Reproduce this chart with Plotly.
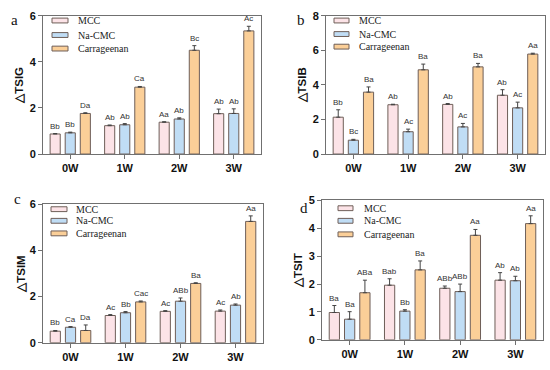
import plotly.graph_objects as go
from plotly.subplots import make_subplots

weeks = ["0W", "1W", "2W", "3W"]
series_names = ["MCC", "Na-CMC", "Carrageenan"]

# Panel a: ΔTSIG
a_mcc = [0.87, 1.23, 1.38, 1.75]
a_na = [0.92, 1.27, 1.52, 1.76]
a_car = [1.76, 2.90, 4.50, 5.34]
a_mcc_err = [0.02, 0.03, 0.02, 0.20]
a_na_err = [0.03, 0.05, 0.05, 0.20]
a_car_err = [0.03, 0.03, 0.20, 0.20]
a_mcc_lab = ["Bb", "Ab", "Aa", "Ab"]
a_na_lab = ["Bb", "Ab", "Ab", "Ab"]
a_car_lab = ["Da", "Ca", "Bc", "Ac"]

# Panel b: ΔTSIB
b_mcc = [2.13, 2.85, 2.87, 3.40]
b_na = [0.80, 1.29, 1.57, 2.67]
b_car = [3.58, 4.87, 5.04, 5.78]
b_mcc_err = [0.43, 0.03, 0.05, 0.32]
b_na_err = [0.05, 0.15, 0.20, 0.33]
b_car_err = [0.30, 0.33, 0.20, 0.05]
b_mcc_lab = ["Bb", "Ab", "Ab", "Ab"]
b_na_lab = ["Bc", "Ac", "Ac", "Ac"]
b_car_lab = ["Ba", "Ba", "Ba", "Aa"]

# Panel c: ΔTSIM
c_mcc = [0.50, 1.18, 1.36, 1.37]
c_na = [0.67, 1.30, 1.80, 1.63]
c_car = [0.53, 1.77, 2.57, 5.26]
c_mcc_err = [0.03, 0.04, 0.03, 0.05]
c_na_err = [0.03, 0.05, 0.14, 0.05]
c_car_err = [0.24, 0.04, 0.03, 0.24]
c_mcc_lab = ["Bb", "Ac", "Ac", "Ac"]
c_na_lab = ["Ca", "Bb", "ABb", "Ab"]
c_car_lab = ["Da", "Cac", "Ba", "Aa"]

# Panel d: ΔTSIT
d_mcc = [0.98, 1.96, 1.85, 2.14]
d_na = [0.74, 1.03, 1.73, 2.12]
d_car = [1.69, 2.51, 3.75, 4.17]
d_mcc_err = [0.25, 0.23, 0.08, 0.27]
d_na_err = [0.27, 0.05, 0.27, 0.16]
d_car_err = [0.45, 0.32, 0.21, 0.28]
d_mcc_lab = ["Ba", "Bab", "ABb", "Ab"]
d_na_lab = ["Ba", "Bb", "ABb", "Ab"]
d_car_lab = ["ABa", "Ba", "Aa", "Aa"]

y_titles = ["\u25b3TSIG", "\u25b3TSIB", "\u25b3TSIM", "\u25b3TSIT"]
panel_letters = ["a", "b", "c", "d"]
y_ranges = [[0, 6], [0, 8], [0, 6], [0, 5]]
y_dticks = [2, 2, 2, 1]

colors = ["#FCE3E7", "#C0DDF5", "#FBCF98"]
outline = "#6E5E58"

panels = [
    ([a_mcc, a_na, a_car], [a_mcc_err, a_na_err, a_car_err], [a_mcc_lab, a_na_lab, a_car_lab]),
    ([b_mcc, b_na, b_car], [b_mcc_err, b_na_err, b_car_err], [b_mcc_lab, b_na_lab, b_car_lab]),
    ([c_mcc, c_na, c_car], [c_mcc_err, c_na_err, c_car_err], [c_mcc_lab, c_na_lab, c_car_lab]),
    ([d_mcc, d_na, d_car], [d_mcc_err, d_na_err, d_car_err], [d_mcc_lab, d_na_lab, d_car_lab]),
]

W, H = 550, 370
# pixel boxes (left, right, top, bottom)
boxes = [(43, 261, 10, 153), (326, 545, 10, 153), (43, 263, 205, 348), (322, 543, 201, 345)]
# legend layout per panel: swatch left, swatch right, text left, row y's
legend_geo = [
    (52, 68, 76, [15, 30, 44]),
    (334, 349, 357, [15, 29, 42]),
    (51, 67, 74, [210, 222, 235]),
    (338, 353, 362, [209, 222, 236]),
]
title_standoff = [3, 3, 1, 3]

BARGAP = 0.17
GROUPGAP = 0.33

fig = make_subplots(rows=2, cols=2)

for p, (vals, errs, labs) in enumerate(panels):
    r, c = p // 2 + 1, p % 2 + 1
    for k in range(3):
        fig.add_trace(go.Bar(
            x=weeks, y=vals[k], name=series_names[k],
            marker=dict(color=colors[k], line=dict(color=outline, width=1)),
            error_y=dict(type="data", symmetric=False, array=errs[k],
                         arrayminus=[0] * 4, color="#444", thickness=1, width=2),
            showlegend=False,
        ), row=r, col=c)

tick_font = dict(family="Liberation Sans, Arial", size=11, color="#111", weight="bold")
layout_updates = {}
for p in range(4):
    l, rr, t, b = boxes[p]
    sfx = "" if p == 0 else str(p + 1)
    layout_updates["xaxis" + sfx] = dict(
        domain=[l / W, rr / W], range=[-0.5, 3.5], type="category",
        showline=True, linecolor="#707070", linewidth=1, mirror=True,
        ticks="outside", ticklen=4, tickcolor="#707070", tickfont=tick_font,
        showgrid=False, zeroline=False, fixedrange=True)
    layout_updates["yaxis" + sfx] = dict(
        domain=[(H - b) / H, (H - t) / H], range=y_ranges[p], dtick=y_dticks[p],
        showline=True, linecolor="#707070", linewidth=1, mirror=True,
        ticks="outside", ticklen=4, tickcolor="#707070", tickfont=tick_font,
        title=dict(text=y_titles[p], standoff=title_standoff[p],
                   font=dict(family="Liberation Sans, Arial", size=11.5, color="#111", weight="bold")),
        showgrid=False, zeroline=False, fixedrange=True)
fig.update_layout(**layout_updates)

annotations = []
shapes = []
for p, (vals, errs, labs) in enumerate(panels):
    l, rr, t, b = boxes[p]
    sfx = "" if p == 0 else str(p + 1)
    px_cat = (rr - l) / 4
    slot = px_cat * (1 - BARGAP) / 3
    for k in range(3):
        for i, wk in enumerate(weeks):
            annotations.append(dict(
                x=wk, y=vals[k][i] + errs[k][i], xref="x" + sfx, yref="y" + sfx,
                text=labs[k][i], showarrow=False, yanchor="bottom", yshift=1,
                xshift=(k - 1) * slot,
                font=dict(family="Liberation Sans, Arial", size=8, color="#333")))
    # legend (swatches + labels)
    sx0, sx1, tx, rows = legend_geo[p]
    for k in range(3):
        yc = rows[k]
        shapes.append(dict(type="rect", xref="paper", yref="paper",
                           x0=sx0 / W, x1=sx1 / W, y0=(H - yc - 2.5) / H, y1=(H - yc + 2.5) / H,
                           fillcolor=colors[k], line=dict(color=outline, width=1)))
        annotations.append(dict(x=tx / W, y=(H - yc) / H, xref="paper", yref="paper",
                                text=series_names[k], showarrow=False, xanchor="left", yanchor="middle",
                                font=dict(family="Liberation Serif, Times New Roman", size=10, color="#222")))

letter_pos = [(14, 14), (301, 14), (17, 199), (304, 209)]
for p, (lx, ly) in enumerate(letter_pos):
    annotations.append(dict(x=lx / W, y=(H - ly) / H, xref="paper", yref="paper",
                            text=panel_letters[p], showarrow=False, xanchor="center", yanchor="middle",
                            font=dict(family="Liberation Serif, Times New Roman", size=15, color="#111")))

fig.update_layout(
    width=W, height=H, margin=dict(l=0, r=0, t=0, b=0),
    paper_bgcolor="white", plot_bgcolor="white",
    barmode="group", bargap=BARGAP, bargroupgap=GROUPGAP,
    annotations=annotations, shapes=shapes, showlegend=False,
)

fig.write_html("out.html", config={"displayModeBar": False},
               post_script="document.body.style.margin='0';document.body.style.padding='0';")
